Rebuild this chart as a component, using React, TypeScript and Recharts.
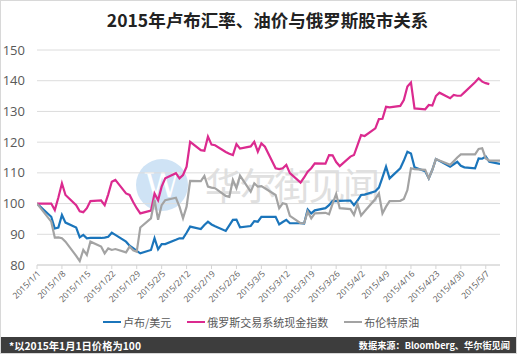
import React from 'react';
import { LineChart, Line, XAxis, YAxis, CartesianGrid } from 'recharts';

const dates = [
  "2015/1/1", "2015/1/5", "2015/1/6", "2015/1/7", "2015/1/8", "2015/1/9",
  "2015/1/12", "2015/1/13", "2015/1/14", "2015/1/15", "2015/1/16",
  "2015/1/19", "2015/1/20", "2015/1/21", "2015/1/22", "2015/1/23",
  "2015/1/26", "2015/1/27", "2015/1/28", "2015/1/29", "2015/1/30",
  "2015/2/2", "2015/2/3", "2015/2/4", "2015/2/5", "2015/2/6",
  "2015/2/9", "2015/2/10", "2015/2/11", "2015/2/12", "2015/2/13",
  "2015/2/16", "2015/2/17", "2015/2/18", "2015/2/19", "2015/2/20",
  "2015/2/23", "2015/2/24", "2015/2/25", "2015/2/26", "2015/2/27",
  "2015/3/2", "2015/3/3", "2015/3/4", "2015/3/5", "2015/3/6",
  "2015/3/9", "2015/3/10", "2015/3/11", "2015/3/12", "2015/3/13",
  "2015/3/16", "2015/3/17", "2015/3/18", "2015/3/19", "2015/3/20",
  "2015/3/23", "2015/3/24", "2015/3/25", "2015/3/26", "2015/3/27",
  "2015/3/30", "2015/3/31", "2015/4/1", "2015/4/2", "2015/4/3",
  "2015/4/6", "2015/4/7", "2015/4/8", "2015/4/9", "2015/4/10",
  "2015/4/13", "2015/4/14", "2015/4/15", "2015/4/16", "2015/4/17",
  "2015/4/20", "2015/4/21", "2015/4/22", "2015/4/23", "2015/4/24",
  "2015/4/27", "2015/4/28", "2015/4/29", "2015/4/30", "2015/5/1",
  "2015/5/4", "2015/5/5", "2015/5/6", "2015/5/7", "2015/5/8",
  "2015/5/11",
];

// 卢布/美元
const rub = [
  100, 95.7, 91.9, 92.2, 96.3, 93.8,
  92.2, 89, 89.8, 88.7, 88.8,
  88.8, 88.9, 89.2, 90.5, 89.8,
  87.6, 86.3, 85.5, 84.6, 83.8,
  84.9, 88.7, 85.1, 86.8, 86.8,
  88.2, 88.7, 88.7, 90.5, 92.5,
  91.7, 93, 94.1, 93.2, 92.6,
  91.1, 92.9, 94.7, 94.8, 92.3,
  92.7, 94.3, 94.1, 95.7, 95.7,
  95.7, 93.2, 94, 94.7, 93.6,
  93.6, 93.5, 98.1, 96.8, 97.8,
  98.5, 99.5, 100.9, 100.8, 100.9,
  101, 99.5, 101, 102.8, 102.9,
  104, 105.2, 108.5, 112, 108.2,
  111.5, 114, 116.9, 116.3, 111.8,
  110.5, 108.2, 111, 114.5, 113.9,
  112, 112.8, 113.6, 112.3, 111.8,
  111.5, 114.7, 114.6, 115.3, 113.6,
  112.9,
];

// 俄罗斯交易系统现金指数
const rts = [
  100, 100, 97.9, 102, 106.6, 102.8,
  99.5, 97.5, 97.2, 98.5, 100.8,
  101, 99.5, 103, 107.1, 107.7,
  103.3, 102.8, 100.5, 98.5, 96.8,
  97.7, 103.3, 101.1, 105.5, 108.2,
  109.9, 108.2, 109.3, 112, 120.1,
  117.4, 117.2, 121.8, 119.2, 119,
  116.8, 116.2, 115.8, 119.4, 117.9,
  118.6, 120.1, 116.9, 119.6, 118.5,
  111.5, 111.2, 111.5, 112.6, 109.9,
  106.8, 108.5, 110.4, 111.5, 113.1,
  113, 115.8, 115.7, 113.5, 112.2,
  115.3, 115.8, 119, 122.3, 122,
  124.5, 127.5, 127.6, 131.5, 131.3,
  131.8, 133.7, 138.1, 139.4, 131,
  130.7, 132.1, 131.9, 135, 136.1,
  134.3, 135.4, 135.1, 135.1, 136.2,
  139.5, 140.8, 139.7, 139.2, 138.9,
  null,
];

// 布伦特原油
const brent = [
  100, 94.1, 88.9, 89, 88.7, 87.6,
  83, 81.3, 84.9, 83.3, 87.6,
  86, 83.8, 85.4, 84.9, 85.2,
  84.1, 86, 84.8, 84.3, 92.2,
  95.2, 101.2, 94.7, 99.5, 101.1,
  101.9, 99, 95.2, 99, 107.4,
  107.3, 109, 105.5, 105.2, 105,
  102.5, 102.2, 107.7, 105, 109.1,
  103.9, 106.6, 105.5, 105.7, 105,
  102.8, 98.5, 100.1, 99.8, 96,
  93.6, 93.6, 97.4, 95.2, 96.8,
  97, 96.5, 100, 103.1, 98.5,
  98.2, 96.3, 99.8, 96.1, 97.5,
  101.5, 103.3, 96.8, 99, 100.8,
  100.9, 101.5, 104.4, 111.5, 111.2,
  111, 108.2, 111, 114.5, 114,
  112.6, 113.8, 115, 116, 116,
  116, 117.8, 118, 114.7, 114,
  114,
];

const tickDates = [
  "2015/1/1", "2015/1/8", "2015/1/15", "2015/1/22", "2015/1/29", "2015/2/5",
  "2015/2/12", "2015/2/19", "2015/2/26", "2015/3/5", "2015/3/12", "2015/3/19",
  "2015/3/26", "2015/4/2", "2015/4/9", "2015/4/16", "2015/4/23", "2015/4/30", "2015/5/7",
];
const yTicks = [80, 90, 100, 110, 120, 130, 140, 150];
const endDate = "2015/5/11";

const seriesNames = ["卢布/美元", "俄罗斯交易系统现金指数", "布伦特原油"];
const title = "2015年卢布汇率、油价与俄罗斯股市关系";
const footLeft = "*以2015年1月1日价格为100";
const footRight = "数据来源：Bloomberg、华尔街见闻";
const watermark = "华尔街见闻";

const base = Date.UTC(2015, 0, 1);
const dayOf = (s: string) => {
  const [y, m, d] = s.split('/').map(Number);
  return (Date.UTC(y, m - 1, d) - base) / 86400000;
};

const data = dates.map((d, i) => ({ day: dayOf(d), rub: rub[i], rts: rts[i], brent: brent[i] }));
const xTicks = tickDates.map(dayOf);
const tickLabel: Record<number, string> = {};
tickDates.forEach((t) => { tickLabel[dayOf(t)] = t; });

const COLORS = ['#1b75bb', '#db2a8f', '#a3a3a3'];
const FONT = '"Open Sans", "Noto Sans CJK SC", sans-serif';

export default function App() {
  return (
    <div style={{ position: 'absolute', left: 0, top: 0, width: 517, height: 354, background: '#fff', fontFamily: FONT, overflow: 'hidden' }}>
      {/* watermark */}
      <div style={{ position: 'absolute', left: 136, top: 159, width: 52, height: 52, borderRadius: '50%', background: '#cfe3f5', color: '#fff', fontSize: 34, fontFamily: '"DejaVu Serif", serif', textAlign: 'center', lineHeight: '52px' }}>W</div>
      <div style={{ position: 'absolute', left: 205, top: 152, height: 64, whiteSpace: 'nowrap', display: 'flex', color: '#e0e0e0', fontFamily: '"Noto Sans CJK SC"' }}>
        {watermark.split('').map((c, i) => (
          <span key={i} style={{ display: 'block', width: 34.5, textAlign: 'center', fontSize: 37, lineHeight: '64px' }}>{c}</span>
        ))}
      </div>
      <div style={{ position: 'absolute', left: 9, top: 7, width: 517, textAlign: 'center', fontSize: 17.5, fontWeight: 700, color: '#222', fontFamily: '"Noto Sans CJK SC", sans-serif' }}>{title}</div>
      <div style={{ position: 'absolute', left: 0, top: 0 }}>
        <LineChart width={517} height={337} data={data} margin={{ top: 50, right: 17, left: 0, bottom: 22 }}>
          <CartesianGrid horizontal={true} vertical={false} stroke="#dcdcdc" />
          <XAxis
            dataKey="day"
            type="number"
            domain={[0, dayOf(endDate)]}
            ticks={xTicks}
            interval={0}
            tickFormatter={(v: number) => tickLabel[v] || ''}
            angle={-45}
            textAnchor="end"
            height={50}
            tickSize={4}
            tickMargin={1}
            stroke="#d4d4d4"
            tick={{ fontSize: 8.5, fill: '#595959' }}
            allowDataOverflow
          />
          <YAxis
            type="number"
            domain={[80, 150]}
            ticks={yTicks}
            width={37}
            axisLine={false}
            tickLine={false}
            tickMargin={6}
            tick={{ fontSize: 13, fill: '#595959' }}
          />
          <Line dataKey="rub" name={seriesNames[0]} stroke={COLORS[0]} strokeWidth={2.2} dot={false} isAnimationActive={false} />
          <Line dataKey="rts" name={seriesNames[1]} stroke={COLORS[1]} strokeWidth={2.2} dot={false} isAnimationActive={false} />
          <Line dataKey="brent" name={seriesNames[2]} stroke={COLORS[2]} strokeWidth={2.2} dot={false} isAnimationActive={false} />
        </LineChart>
      </div>
      {/* legend */}
      <div style={{ position: 'absolute', left: 103, top: 313, height: 18, display: 'flex', alignItems: 'center', fontSize: 11, color: '#595959', fontFamily: '"Noto Sans CJK SC", sans-serif', whiteSpace: 'nowrap' }}>
        {seriesNames.map((n, i) => (
          <div key={n} style={{ display: 'flex', alignItems: 'center', marginRight: i < 2 ? 16 : 0 }}>
            <div style={{ width: 18, height: i === 2 ? 1.5 : 2.5, background: COLORS[i], marginRight: 2 }} />
            <span>{n}</span>
          </div>
        ))}
      </div>
      <div style={{ position: 'absolute', left: 0, top: 337, width: 517, height: 17, background: '#3d3d3d', color: '#fff', fontWeight: 700, fontFamily: '"Noto Sans CJK SC", sans-serif' }}>
        <span style={{ position: 'absolute', left: 9, top: 0, lineHeight: '17px', fontSize: 10.3 }}>{footLeft}</span>
        <span style={{ position: 'absolute', right: 7, top: 0, lineHeight: '17px', fontSize: 9.2 }}>{footRight}</span>
      </div>
      <div style={{ position: 'absolute', left: 0, top: 0, width: 515, height: 352, border: '1px solid #d8d8d8', pointerEvents: 'none' }} />
    </div>
  );
}
